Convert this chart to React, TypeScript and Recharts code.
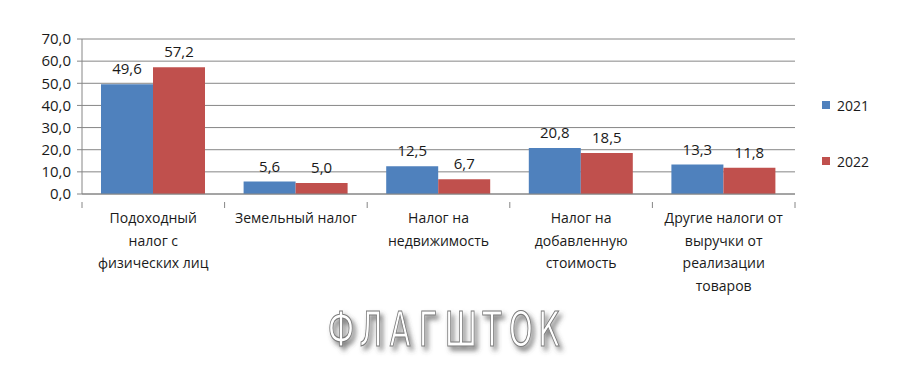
import React from "react";
import { BarChart, Bar, XAxis, YAxis, CartesianGrid, Legend, LabelList } from "recharts";

const categories = [
  "Подоходный налог с физических лиц",
  "Земельный налог",
  "Налог на недвижимость",
  "Налог на добавленную стоимость",
  "Другие налоги от выручки от реализации товаров",
];

const tickLines = [
  ["Подоходный", "налог с", "физических лиц"],
  ["Земельный  налог"],
  ["Налог на", "недвижимость"],
  ["Налог на", "добавленную", "стоимость"],
  ["Другие налоги от", "выручки от", "реализации", "товаров"],
];

const values2021 = [49.6, 5.6, 12.5, 20.8, 13.3];
const values2022 = [57.2, 5.0, 6.7, 18.5, 11.8];

const yTicks = [0, 10, 20, 30, 40, 50, 60, 70];

const watermark = "ФЛАГШТОК".split("");
const watermarkCenters = [341, 371, 400, 428, 461, 492, 521, 549];

const BLUE = "#4F81BD";
const RED = "#C0504D";
const FONT = "'Open Sans', sans-serif";

const data = categories.map((name, i) => ({
  name,
  y2021: values2021[i],
  y2022: values2022[i],
}));

const fmt = (v: number) => v.toFixed(1).replace(".", ",");

const PLOT_W = 795 - 82;

const CategoryTick = (props: any) => {
  const { x, y, payload, index } = props;
  const half = PLOT_W / categories.length / 2;
  const lines = tickLines[index] || [payload.value];
  return (
    <g>
      <line x1={x - half} x2={x - half} y1={y} y2={y + 6} stroke="#868686" />
      {index === categories.length - 1 && (
        <line x1={x + half} x2={x + half} y1={y} y2={y + 6} stroke="#868686" />
      )}
      <text x={x} y={y + 21} textAnchor="middle" fontSize={14} fill="#1a1a1a" fontFamily={FONT}>
        {lines.map((l: string, k: number) => (
          <tspan key={k} x={x} dy={k === 0 ? 0 : 22.5}>
            {l}
          </tspan>
        ))}
      </text>
    </g>
  );
};

const LegendContent = () => {
  const items = [
    { label: "2021", color: BLUE },
    { label: "2022", color: RED },
  ];
  return (
    <div style={{ paddingLeft: 27, fontFamily: FONT, fontSize: 14, color: "#1a1a1a" }}>
      {items.map((it, i) => (
        <div
          key={it.label}
          style={{ display: "flex", alignItems: "center", height: 20, marginTop: i === 0 ? 0 : 36 }}
        >
          <span style={{ width: 8, height: 8, background: it.color, marginRight: 7, display: "inline-block" }} />
          <span>{it.label}</span>
        </div>
      ))}
    </div>
  );
};

export default function App() {
  return (
    <div style={{ position: "relative", width: 900, height: 365, background: "#fff" }}>
      <style>{`body{margin:0;}`}</style>
      <BarChart
        width={900}
        height={365}
        data={data}
        margin={{ top: 39, right: 0, left: 0, bottom: 0 }}
        barCategoryGap={19}
        barGap={0}
      >
        <CartesianGrid vertical={false} stroke="#868686" />
        <XAxis
          dataKey="name"
          axisLine={{ stroke: "#868686" }}
          tickLine={false}
          tick={<CategoryTick />}
          interval={0}
          height={171}
        />
        <YAxis
          width={82}
          domain={[0, 70]}
          ticks={yTicks}
          interval={0}
          tickFormatter={fmt}
          axisLine={{ stroke: "#868686" }}
          tickLine={{ stroke: "#868686" }}
          tickSize={5}
          tickMargin={6}
          tick={{ fontSize: 15, fill: "#1a1a1a", fontFamily: FONT }}
        />
        <Legend
          layout="vertical"
          align="right"
          verticalAlign="middle"
          content={<LegendContent />}
          wrapperStyle={{ width: 105, top: 95, right: 0 }}
        />
        <Bar dataKey="y2021" name="2021" fill={BLUE} isAnimationActive={false}>
          <LabelList dataKey="y2021" position="top" offset={10} formatter={(v: any) => fmt(Number(v))}
            style={{ fontSize: 15, fill: "#1a1a1a", fontFamily: FONT }} />
        </Bar>
        <Bar dataKey="y2022" name="2022" fill={RED} isAnimationActive={false}>
          <LabelList dataKey="y2022" position="top" offset={10} formatter={(v: any) => fmt(Number(v))}
            style={{ fontSize: 15, fill: "#1a1a1a", fontFamily: FONT }} />
        </Bar>
      </BarChart>
      <svg width={900} height={365} style={{ position: "absolute", left: 0, top: 0, pointerEvents: "none" }}>
        <defs>
          <filter id="wmShadow" x="-30%" y="-30%" width="180%" height="170%">
            <feDropShadow dx="3" dy="4" stdDeviation="2.5" floodColor="#444" floodOpacity="0.7" />
          </filter>
        </defs>
        <g filter="url(#wmShadow)">
          {watermark.map((ch, i) => (
            <text
              key={i}
              x={0}
              y={0}
              transform={`translate(${watermarkCenters[i]}, 346) scale(0.63, 1)`}
              textAnchor="middle"
              fontSize={48}
              fontFamily="'DejaVu Sans', sans-serif"
              fill="#fff"
              stroke="#7a7a7a"
              strokeWidth={1.2}
            >
              {ch}
            </text>
          ))}
        </g>
      </svg>
    </div>
  );
}
